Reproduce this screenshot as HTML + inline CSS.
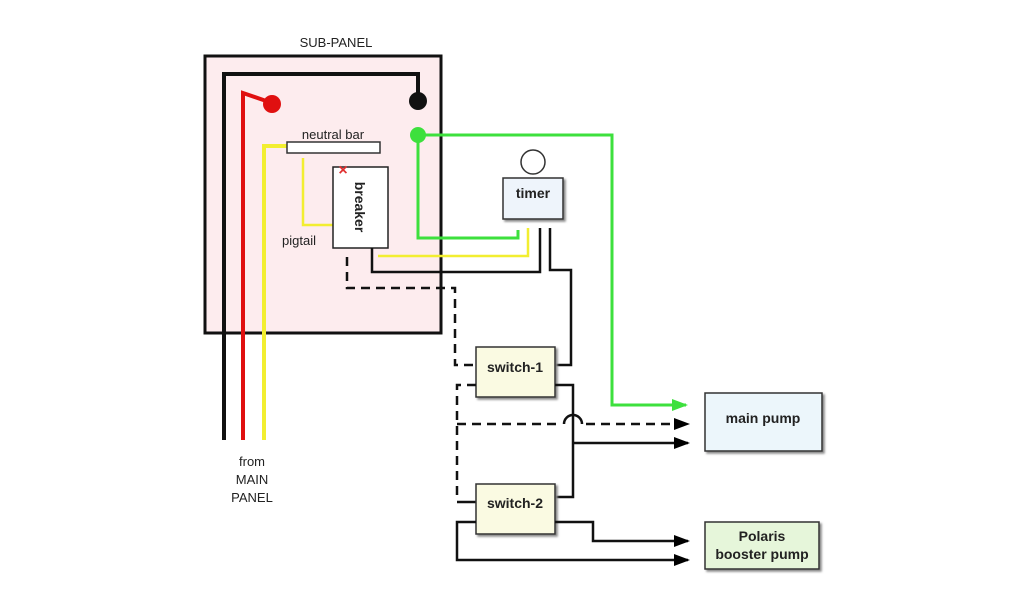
<!DOCTYPE html>
<html><head><style>body{margin:0;background:#fff}svg{display:block}text{font-family:"Liberation Sans",sans-serif}</style></head>
<body>
<svg width="1024" height="600" viewBox="0 0 1024 600" xmlns="http://www.w3.org/2000/svg">
<defs>
<marker id="ab" markerWidth="16" markerHeight="12" refX="14" refY="6" orient="auto" markerUnits="userSpaceOnUse"><path d="M0,0 L16,6 L0,12 Z" fill="#000"/></marker>
<marker id="ag" markerWidth="16" markerHeight="12" refX="14" refY="6" orient="auto" markerUnits="userSpaceOnUse"><path d="M0,0 L16,6 L0,12 Z" fill="#3de03d"/></marker>
<filter id="sh"><feDropShadow dx="2" dy="2" stdDeviation="1" flood-color="#888"/></filter>
</defs>
<text x="336" y="47" font-size="13" text-anchor="middle" fill="#222">SUB-PANEL</text>
<rect x="205" y="56" width="236" height="277" fill="#fdecee" stroke="#111" stroke-width="3"/>
<path d="M224,440 V74 H418 V100" fill="none" stroke="#111" stroke-width="4"/>
<circle cx="418" cy="101" r="9" fill="#111"/>
<path d="M243,440 V93 L272,103" fill="none" stroke="#e01010" stroke-width="4"/>
<circle cx="272" cy="104" r="9" fill="#e01010"/>
<path d="M264,440 V146 H287" fill="none" stroke="#f2ee30" stroke-width="4"/>
<text x="333" y="139" font-size="13" text-anchor="middle" fill="#222">neutral bar</text>
<rect x="287" y="142" width="93" height="11" fill="#fff" stroke="#333" stroke-width="1.5"/>
<path d="M303,158 V225 H334" fill="none" stroke="#f2ee30" stroke-width="2.5"/>
<text x="282" y="245" font-size="13" fill="#222">pigtail</text>
<rect x="333" y="167" width="55" height="81" fill="#fff" stroke="#222" stroke-width="1.5"/>
<text x="0" y="0" font-size="14" font-weight="bold" fill="#222" transform="translate(355,207) rotate(90)" text-anchor="middle">breaker</text>
<text x="343" y="175" font-size="16" font-weight="bold" fill="#e03030" text-anchor="middle">×</text>
<path d="M418,135 V238 H518 V230" fill="none" stroke="#3de03d" stroke-width="3"/>
<path d="M418,135 H612 V405 H686" fill="none" stroke="#3de03d" stroke-width="3" marker-end="url(#ag)"/>
<circle cx="418" cy="135" r="8" fill="#3de03d"/>
<circle cx="533" cy="162" r="12" fill="#fff" stroke="#333" stroke-width="1.5"/>
<rect x="503" y="178" width="60" height="41" fill="#eef4fb" stroke="#333" stroke-width="1.5" filter="url(#sh)"/>
<text x="533" y="198" font-size="14" font-weight="bold" text-anchor="middle" fill="#222">timer</text>
<path d="M378,256 H528 V228" fill="none" stroke="#f2ee30" stroke-width="2.5"/>
<path d="M372,248 V272 H540 V228" fill="none" stroke="#111" stroke-width="2.5"/>
<path d="M550,228 V270 H571 V365 H555" fill="none" stroke="#111" stroke-width="2.5"/>
<path d="M347,257 V288 H455 V365 H476" fill="none" stroke="#111" stroke-width="2.5" stroke-dasharray="9,6"/>
<rect x="476" y="347" width="79" height="50" fill="#fafae2" stroke="#333" stroke-width="1.5" filter="url(#sh)"/>
<text x="515" y="372" font-size="14" font-weight="bold" text-anchor="middle" fill="#222">switch-1</text>
<path d="M555,385 H573 V497 H555" fill="none" stroke="#111" stroke-width="2.5"/>
<path d="M573,443 H688" fill="none" stroke="#111" stroke-width="2.5" marker-end="url(#ab)"/>
<path d="M476,385 H457 V497" fill="none" stroke="#111" stroke-width="2.5" stroke-dasharray="9,6"/>
<path d="M457,424 H562" fill="none" stroke="#111" stroke-width="2.5" stroke-dasharray="9,6"/>
<path d="M564,424 A9,9 0 0 1 582,424" fill="none" stroke="#111" stroke-width="2.5"/>
<path d="M586,424 H688" fill="none" stroke="#111" stroke-width="2.5" stroke-dasharray="9,6" marker-end="url(#ab)"/>
<path d="M457,502 H476" fill="none" stroke="#111" stroke-width="2.5"/>
<rect x="476" y="484" width="79" height="50" fill="#fafae2" stroke="#333" stroke-width="1.5" filter="url(#sh)"/>
<text x="515" y="508" font-size="14" font-weight="bold" text-anchor="middle" fill="#222">switch-2</text>
<path d="M476,522 H457 V560 H688" fill="none" stroke="#111" stroke-width="2.5" marker-end="url(#ab)"/>
<path d="M555,522 H593 V541 H688" fill="none" stroke="#111" stroke-width="2.5" marker-end="url(#ab)"/>
<rect x="705" y="393" width="117" height="58" fill="#ecf6fb" stroke="#333" stroke-width="1.5" filter="url(#sh)"/>
<text x="763" y="423" font-size="14" font-weight="bold" text-anchor="middle" fill="#222">main pump</text>
<rect x="705" y="522" width="114" height="47" fill="#e6f6da" stroke="#333" stroke-width="1.5" filter="url(#sh)"/>
<text x="762" y="541" font-size="14" font-weight="bold" text-anchor="middle" fill="#222">Polaris</text>
<text x="762" y="559" font-size="14" font-weight="bold" text-anchor="middle" fill="#222">booster pump</text>
<text x="252" y="466" font-size="13" text-anchor="middle" fill="#222">from</text>
<text x="252" y="484" font-size="13" text-anchor="middle" fill="#222">MAIN</text>
<text x="252" y="502" font-size="13" text-anchor="middle" fill="#222">PANEL</text>
</svg>
</body></html>
